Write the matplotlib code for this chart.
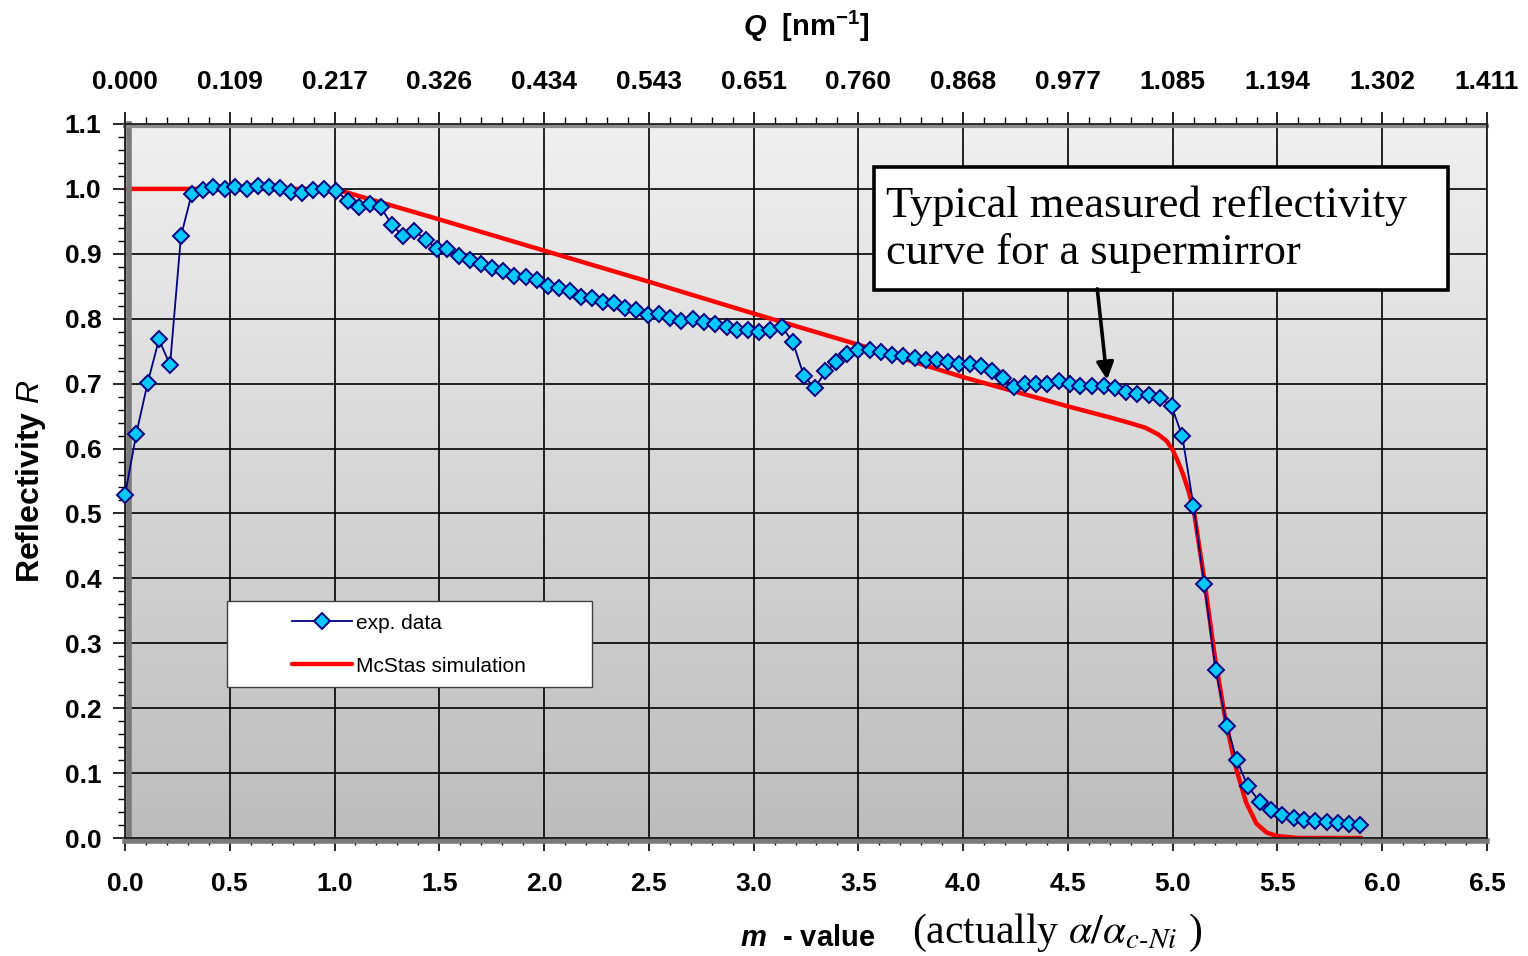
import numpy as np
import matplotlib
matplotlib.use("Agg")
import matplotlib.pyplot as plt
from matplotlib.patches import Rectangle
from matplotlib.ticker import MultipleLocator
from matplotlib.colors import LinearSegmentedColormap

plt.rcParams['font.family'] = ['Liberation Sans', 'DejaVu Sans']
plt.rcParams['mathtext.fontset'] = 'custom'
plt.rcParams['mathtext.rm'] = 'Liberation Sans'
plt.rcParams['mathtext.it'] = 'Liberation Sans:italic'
plt.rcParams['mathtext.bf'] = 'Liberation Sans:bold'
plt.rcParams['mathtext.bfit'] = 'Liberation Sans:italic:bold'

# measured reflectivity (m-value, R)
m_exp = [0.000, 0.054, 0.108, 0.162, 0.215, 0.267, 0.318, 0.370, 0.422, 0.475,
         0.527, 0.580, 0.633, 0.685, 0.738, 0.791, 0.843, 0.896, 0.949, 1.008,
         1.062, 1.115, 1.167, 1.221, 1.274, 1.326, 1.380, 1.435, 1.488, 1.538,
         1.594, 1.647, 1.701, 1.751, 1.803, 1.856, 1.912, 1.965, 2.018, 2.072,
         2.124, 2.176, 2.229, 2.283, 2.336, 2.388, 2.441, 2.494, 2.547, 2.600,
         2.654, 2.709, 2.764, 2.818, 2.871, 2.922, 2.974, 3.027, 3.080, 3.134,
         3.187, 3.240, 3.292, 3.343, 3.395, 3.447, 3.500, 3.555, 3.608, 3.659,
         3.714, 3.770, 3.825, 3.876, 3.929, 3.979, 4.035, 4.087, 4.140, 4.190,
         4.243, 4.297, 4.349, 4.402, 4.456, 4.508, 4.560, 4.614, 4.671, 4.725,
         4.778, 4.830, 4.886, 4.941, 4.995, 5.046, 5.099, 5.150, 5.205, 5.258,
         5.306, 5.358, 5.415, 5.468, 5.524, 5.578, 5.627, 5.680, 5.736, 5.790,
         5.842, 5.895]
R_exp = [0.528, 0.623, 0.701, 0.768, 0.729, 0.927, 0.992, 0.999, 1.003, 1.000,
         1.003, 1.000, 1.005, 1.003, 1.002, 0.996, 0.993, 0.999, 1.000, 0.997,
         0.982, 0.972, 0.976, 0.972, 0.944, 0.928, 0.935, 0.922, 0.908, 0.907,
         0.896, 0.890, 0.885, 0.878, 0.873, 0.866, 0.864, 0.860, 0.851, 0.848,
         0.842, 0.834, 0.832, 0.826, 0.825, 0.816, 0.813, 0.805, 0.807, 0.801,
         0.797, 0.800, 0.795, 0.792, 0.787, 0.782, 0.783, 0.779, 0.782, 0.788,
         0.764, 0.712, 0.693, 0.719, 0.733, 0.746, 0.752, 0.752, 0.748, 0.744,
         0.742, 0.740, 0.737, 0.737, 0.734, 0.730, 0.730, 0.727, 0.719, 0.708,
         0.695, 0.700, 0.700, 0.700, 0.704, 0.700, 0.697, 0.696, 0.696, 0.693,
         0.687, 0.684, 0.682, 0.678, 0.665, 0.619, 0.512, 0.392, 0.259, 0.173,
         0.120, 0.080, 0.056, 0.043, 0.035, 0.031, 0.028, 0.026, 0.025, 0.023,
         0.022, 0.020]

# McStas simulation
m_sim = [0.0, 1.0, 1.5, 2.0, 2.5, 3.0, 3.5, 4.0, 4.5, 4.7, 4.8, 4.87, 4.93,
         4.97, 5.0, 5.025, 5.05, 5.075, 5.1, 5.15, 5.2, 5.25, 5.3, 5.35, 5.4,
         5.45, 5.5, 5.6, 5.9]
R_sim = [1.0, 1.0, 0.953, 0.905, 0.857, 0.808, 0.760, 0.710, 0.665, 0.648,
         0.639, 0.632, 0.622, 0.612, 0.598, 0.580, 0.560, 0.535, 0.506, 0.400,
         0.282, 0.185, 0.110, 0.055, 0.022, 0.008, 0.003, 0.0, 0.0]

m_ticks = [0.0, 0.5, 1.0, 1.5, 2.0, 2.5, 3.0, 3.5, 4.0, 4.5, 5.0, 5.5, 6.0, 6.5]
q_labels = ["0.000", "0.109", "0.217", "0.326", "0.434", "0.543", "0.651",
            "0.760", "0.868", "0.977", "1.085", "1.194", "1.302", "1.411"]

W, H = 1528, 956
fig = plt.figure(figsize=(W / 100, H / 100), dpi=100)
ax = fig.add_axes([125 / W, 1 - 838 / H, 1362 / W, 714 / H])

# grey gradient background
grad = np.linspace(0, 1, 256).reshape(-1, 1)
cmap = LinearSegmentedColormap.from_list("bg", ["#bdbdbd", "#f0f0f0"])
ax.imshow(grad, extent=[0, 1, 0, 1], transform=ax.transAxes, aspect='auto',
          cmap=cmap, origin='lower', zorder=0)

ax.plot(m_sim, R_sim, color='#ff0000', lw=3.2, zorder=3, label='McStas simulation',
        solid_capstyle='round')
ax.plot(m_exp, R_exp, color='#000080', lw=1.3, marker='D', markersize=8,
        markerfacecolor='#00c8f8', markeredgecolor='#000080', markeredgewidth=1.4,
        zorder=9, label='exp. data', clip_on=False)

ax.set_xlim(0, 6.5)
ax.set_ylim(0, 1.1)
ax.set_xticks(m_ticks)
ax.xaxis.set_major_formatter(plt.FormatStrFormatter('%.1f'))
ax.xaxis.set_minor_locator(MultipleLocator(0.1))
ax.yaxis.set_major_locator(MultipleLocator(0.1))
ax.yaxis.set_minor_locator(MultipleLocator(0.02))
ax.yaxis.set_major_formatter(plt.FormatStrFormatter('%.1f'))
ax.grid(True, which='major', color='black', lw=1.2)
ax.tick_params(which='major', direction='out', length=9, width=1.2, labelsize=19)
ax.tick_params(which='minor', direction='out', length=5, width=1.0)
ax.tick_params(axis='x', which='major', pad=15.5)
ax.tick_params(axis='y', which='major', pad=8)
for lab in ax.get_xticklabels() + ax.get_yticklabels():
    lab.set_fontweight('bold')

for side in ['left', 'bottom', 'top', 'right']:
    ax.spines[side].set_color('#202020')
    ax.spines[side].set_linewidth(1.3)
    ax.spines[side].set_zorder(6)
# shaded frame on the inner edges
ax.plot([0.003, 0.003], [0, 1], transform=ax.transAxes, color='#7a7a7a', lw=4, zorder=5, clip_on=False)
ax.plot([0, 1], [0.997, 0.997], transform=ax.transAxes, color='#8a8a8a', lw=3, zorder=5, clip_on=False)
ax.plot([0, 1], [-0.004, -0.004], transform=ax.transAxes, color='#7a7a7a', lw=4, zorder=5, clip_on=False)

# Q axis on top
secax = ax.secondary_xaxis('top')
secax.set_xticks(m_ticks, labels=q_labels)
secax.xaxis.set_minor_locator(MultipleLocator(0.1))
secax.tick_params(which='major', direction='out', length=9, width=1.2, labelsize=19, pad=12.5)
secax.tick_params(which='minor', direction='out', length=5, width=1.0)
secax.spines['top'].set_visible(False)
for lab in secax.get_xticklabels():
    lab.set_fontweight('bold')

ax.set_ylabel(r'Reflectivity $\mathit{R}$', fontsize=23, fontweight='bold')
ax.yaxis.set_label_coords(-0.0565, 0.5)

fig.text(806 / W, 1 - 26 / H, r'$\mathbfit{Q}$  [nm$^{\mathbf{-1}}$]', fontsize=21,
         fontweight='bold', ha='center', va='center')
fig.text(808 / W, 1 - 938 / H, r'$\mathbfit{m}$  - value', fontsize=21,
         fontweight='bold', ha='center', va='center')
fig.text(912 / W, 1 - 933 / H, r'(actually $\alpha/\alpha_{c\text{-}Ni}$ )',
         fontsize=30, family='Liberation Serif', math_fontfamily='stix',
         ha='left', va='center')

# legend box
ax.add_patch(Rectangle((0.487, 0.232), 1.742, 0.1326, facecolor='white',
                       edgecolor='#404040', lw=1.0, zorder=7))
h, l = ax.get_legend_handles_labels()
leg = ax.legend(h[::-1], l[::-1], loc='center left', bbox_to_anchor=(0.797, 0.298),
                bbox_transform=ax.transData, frameon=False, fontsize=15,
                handlelength=2.9, handletextpad=0.15, labelspacing=1.15,
                borderpad=0, borderaxespad=0)
leg.set_zorder(8)

# annotation box with arrow
ax.add_patch(Rectangle((3.575, 0.845), 2.74, 0.189, facecolor='white',
                       edgecolor='black', lw=2.6, zorder=7))
ax.text(3.63, 0.938, 'Typical measured reflectivity\ncurve for a supermirror',
        family='Liberation Serif', fontsize=32, ha='left', va='center', zorder=8,
        linespacing=1.25)
ax.annotate('', xy=(4.687, 0.706), xytext=(4.64, 0.846),
            arrowprops=dict(arrowstyle='-|>', color='black', lw=2.6,
                            mutation_scale=26, shrinkA=0, shrinkB=0), zorder=8)

fig.savefig('out.png', dpi=100)
